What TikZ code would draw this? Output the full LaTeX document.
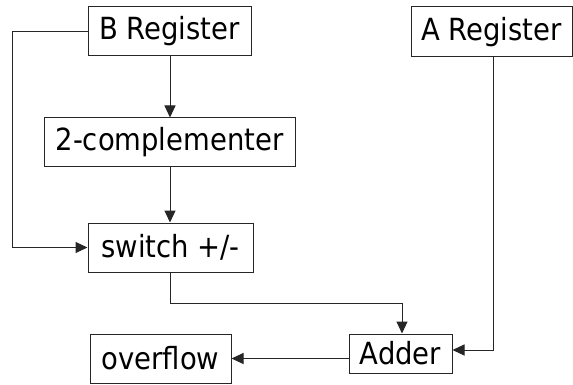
\documentclass[tikz,border=0pt]{standalone}
\usepackage{fontspec}
\setmainfont{DejaVu Sans Condensed}
\usetikzlibrary{arrows.meta}
\begin{document}
\begin{tikzpicture}[x=1pt,y=-1pt,
  box/.style={draw=black!85,line width=1pt,inner sep=0pt,font=\fontsize{30.5}{36}\selectfont,anchor=center},
  conn/.style={draw=black!85,line width=1pt},
  arr/.style={conn,-{Triangle[length=12pt,width=11pt]}}]
\useasboundingbox (0,0) rectangle (573,385);
\node[box,minimum width=163pt,minimum height=49pt] (B) at (169.5,31.5) {B Register};
\node[box,minimum width=251pt,minimum height=49pt] (C) at (169.5,142.5) {2-complementer};
\node[box,minimum width=165pt,minimum height=49pt] (S) at (170.5,247.5) {switch +/-};
\node[box,minimum width=161pt,minimum height=50pt] (A) at (491.5,32) {A Register};
\node[box,minimum width=103pt,minimum height=39pt] (D) at (400.5,353.5) {Adder};
\node[box,minimum width=141pt,minimum height=49pt] (O) at (160.5,358.5) {overflow};
\coordinate (vx) at (170,0);
\coordinate (bl) at (12,31.5);
\coordinate (bl2) at (12,247.5);
\coordinate (s1) at (170,303);
\coordinate (s2) at (402,303);
\coordinate (a1) at (493,350);
\draw[arr] (B.west) -- (bl) -- (bl2) -- (S.west);
\draw[arr] (vx |- B.south) -- (vx |- C.north);
\draw[arr] (vx |- C.south) -- (vx |- S.north);
\draw[arr] (vx |- S.south) -- (s1) -- (s2) -- (s2 |- D.north);
\draw[arr] (A.south -| a1) -- (a1) -- (D.east |- a1);
\draw[arr] (D.west |- O.east) -- (O.east);
\end{tikzpicture}
\end{document}
